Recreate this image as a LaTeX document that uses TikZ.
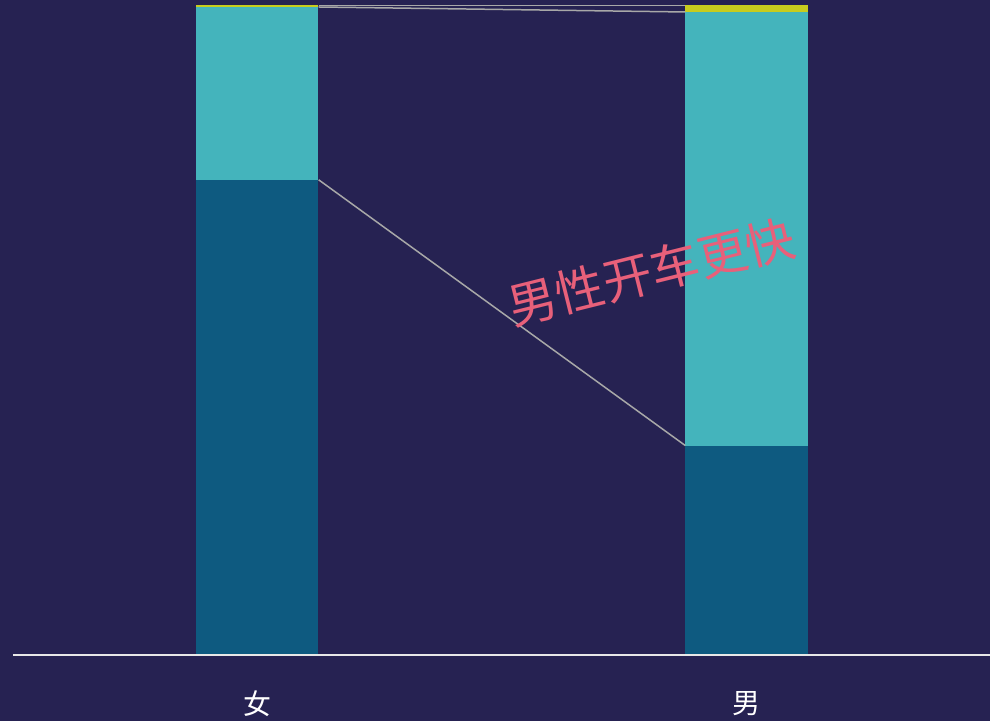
\documentclass[tikz,border=0pt]{standalone}
\usepackage{fontspec}
\newfontfamily\cjk{Noto Sans CJK SC}
\definecolor{bgblue}{HTML}{262252}
\definecolor{darkpart}{HTML}{0E5A80}
\definecolor{tealpart}{HTML}{44B4BC}
\definecolor{yellowpart}{HTML}{C8CC1E}
\definecolor{linkgray}{HTML}{A8A8A8}
\definecolor{pinktext}{HTML}{E8607A}
\tikzset{
  link/.style={linkgray, line width=1.5pt},
  barlabel/.style={white, font=\cjk\fontsize{28}{28}\selectfont}
}
\begin{document}
\begin{tikzpicture}[x=1pt,y=-1pt]
    \fill[bgblue] (0,0) rectangle (991,722);

    % stacked bars: x position, yellow/teal border, teal/dark border
    \foreach \x/\ya/\yb in {196/7/180, 686/12/446}
    {
      \fill[yellowpart] (\x,5) rectangle (\x+122.5,\ya);
      \fill[tealpart] (\x,\ya) rectangle (\x+122.5,\yb);
      \fill[darkpart] (\x,\yb) rectangle (\x+122.5,655);
    }
    \coordinate (fTop) at (319,5.5);
    \coordinate (fMid) at (319,7);
    \coordinate (fLow) at (319,180);
    \coordinate (mTop) at (686,5.5);
    \coordinate (mMid) at (686,12);
    \coordinate (mLow) at (686,446);
    \draw[link] (fTop) -- (mTop);
    \draw[link] (fMid) -- (mMid);
    \draw[link] (fLow) -- (mLow);

    \draw[line width=2pt, white!82!gray] (13,656) -- (991,656);
    \node[barlabel] (female) at (258,704) {女};
    \node[barlabel] (male) at (747,704) {男};

    \node[pinktext, rotate=14, font=\cjk\fontsize{49}{49}\selectfont] (claim) at (652,272) {男性开车更快};
  \end{tikzpicture}
\end{document}
